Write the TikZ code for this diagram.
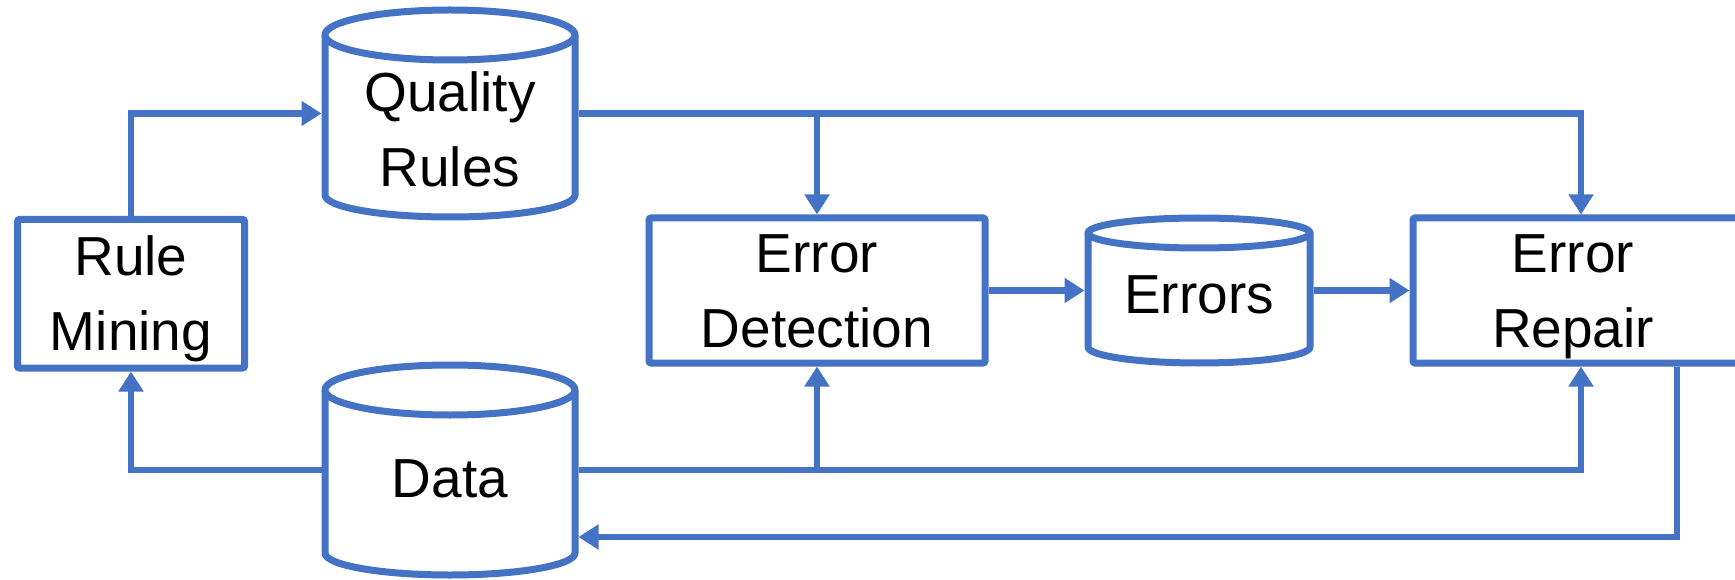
\documentclass[tikz,border=0pt]{standalone}
\usepackage{fontspec}
\setmainfont{Liberation Sans}
\usetikzlibrary{arrows.meta,calc}
\definecolor{acc}{HTML}{4472C4}
\begin{document}
\begin{tikzpicture}[x=1pt,y=1pt,
  lbl/.style={font=\fontsize{55}{75}\selectfont, align=center, text height=39pt, text depth=0pt, inner sep=0pt},
  lbltwo/.style={lbl, text height=114pt},
  boxnode/.style={lbltwo, draw=acc, line width=7pt, rounded corners=2pt, fill=white, minimum width=#1, minimum height=145pt},
  cylarea/.style={inner sep=0pt, outer sep=3.5pt},
  cyl/.style={draw=acc, line width=7pt, line join=round},
  arr/.style={draw=acc, line width=6.5pt, -{Triangle[length=20pt,width=24pt]}},
]
\useasboundingbox (0,0) rectangle (1735,-580);
\clip (0,0) rectangle (1735,-580);

% Cylinders
% Quality Rules
\fill[white] (325,-35) -- (325,-195) arc[start angle=180,end angle=360,x radius=125pt,y radius=22pt] -- (575,-35) -- cycle;
\draw[cyl] (325,-35) -- (325,-195) arc[start angle=180,end angle=360,x radius=125pt,y radius=22pt] -- (575,-35);
\draw[cyl, fill=white] (450,-35) ellipse[x radius=125pt, y radius=25pt];
% Data
\fill[white] (325,-390) -- (325,-553) arc[start angle=180,end angle=360,x radius=125pt,y radius=22pt] -- (575,-390) -- cycle;
\draw[cyl] (325,-390) -- (325,-553) arc[start angle=180,end angle=360,x radius=125pt,y radius=22pt] -- (575,-390);
\draw[cyl, fill=white] (450,-390) ellipse[x radius=125pt, y radius=25pt];
% Errors
\fill[white] (1088,-233) -- (1088,-347) arc[start angle=180,end angle=360,x radius=111pt,y radius=16pt] -- (1310,-233) -- cycle;
\draw[cyl] (1088,-233) -- (1088,-347) arc[start angle=180,end angle=360,x radius=111pt,y radius=16pt] -- (1310,-233);
\draw[cyl, fill=white] (1199,-233) ellipse[x radius=111pt, y radius=15pt];

% Cylinder areas (for connectors)
\node[cylarea, minimum width=250pt, minimum height=207pt] (qr) at (450,-113.5) {};
\node[cylarea, minimum width=250pt, minimum height=210pt] (data) at (450,-470) {};
\node[cylarea, minimum width=222pt, minimum height=145pt] (errs) at (1199,-290.5) {};

\node[lbltwo] (qrtxt) at (450,-130) {Quality\\Rules};
\node[lbl] (datatxt) at (450,-477.5) {Data};
\node[lbl] (errstxt) at (1199,-293.5) {Errors};

% Boxes
\node[boxnode=227pt, minimum height=148.5pt] (rm) at (131,-293.75) {Rule\\Mining};
\node[boxnode=336pt] (det) at (817,-290.5) {Error\\Detection};
\node[boxnode=336pt] (rep) at (1581,-290.5) {};
\node[lbltwo] (reptxt) at (1573,-290.5) {Error\\Repair};

% Connectors
\draw[arr] (rm.north) |- (qr.west);
\draw[arr] (qr.east) -| (rep.north);
\draw[arr] (qr.east -| det.north) -- (det.north);
\draw[arr] (data.west) -| (rm.south);
\draw[arr] (data.east) -| (rep.south);
\draw[arr] (data.east -| det.south) -- (det.south);
\draw[arr] (det.east) -- (errs.west);
\draw[arr] (errs.east) -- (rep.west);
\coordinate (fb) at (1677,-537);
\draw[arr] (rep.south -| fb) -- (fb) -- (data.east |- fb);
\end{tikzpicture}
\end{document}
